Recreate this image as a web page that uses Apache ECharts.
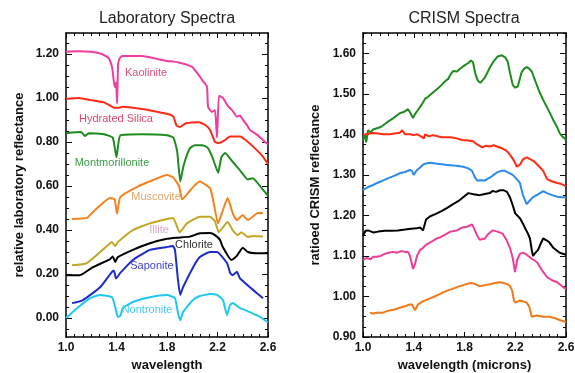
<!DOCTYPE html>
<html>
<head>
<meta charset="utf-8">
<script src="https://cdn.jsdelivr.net/npm/echarts@6/dist/echarts.min.js"></script>
<style>
  html, body { margin: 0; padding: 0; background: #fff; }
  #chart { width: 575px; height: 373px; }
</style>
</head>
<body>
<div id="chart"></div>
<script>
// ---- laboratory spectra: [wavelength, relative reflectance] ----
const kaolinite = [[1.0,1.21],[1.1,1.212],[1.2,1.21],[1.25,1.205],[1.3,1.195],[1.34,1.18],[1.365,1.14],[1.38,1.07],[1.39,1.05],[1.397,1.07],[1.405,0.975],[1.412,1.15],[1.425,1.18],[1.445,1.19],[1.6,1.19],[1.7,1.18],[1.8,1.168],[1.85,1.165],[1.9,1.16],[1.96,1.15],[2.0,1.14],[2.05,1.105],[2.08,1.08],[2.117,1.05],[2.125,0.96],[2.156,0.936],[2.18,0.945],[2.196,0.82],[2.212,1.01],[2.243,1.0],[2.28,0.965],[2.315,0.945],[2.354,0.915],[2.378,0.92],[2.402,0.90],[2.43,0.88],[2.457,0.855],[2.52,0.83],[2.576,0.80],[2.6,0.79]];
const hydratedSilica = [[1.0,0.995],[1.1,1.0],[1.2,0.99],[1.3,0.98],[1.35,0.965],[1.38,0.955],[1.42,0.955],[1.45,0.96],[1.6,0.95],[1.7,0.94],[1.8,0.928],[1.85,0.915],[1.875,0.875],[1.9,0.868],[1.95,0.885],[2.05,0.89],[2.1,0.878],[2.14,0.855],[2.18,0.8],[2.21,0.795],[2.25,0.805],[2.3,0.825],[2.38,0.825],[2.42,0.81],[2.48,0.78],[2.55,0.74],[2.6,0.70]];
const montmorillonite = [[1.0,0.84],[1.12,0.845],[1.15,0.827],[1.18,0.84],[1.3,0.835],[1.37,0.82],[1.40,0.73],[1.43,0.83],[1.6,0.835],[1.8,0.83],[1.85,0.82],[1.88,0.76],[1.905,0.62],[1.93,0.69],[1.98,0.77],[2.02,0.785],[2.08,0.785],[2.12,0.775],[2.16,0.73],[2.205,0.66],[2.23,0.73],[2.26,0.75],[2.32,0.71],[2.38,0.67],[2.44,0.63],[2.48,0.635],[2.55,0.59],[2.6,0.555]];
const muscovite = [[1.048,0.45],[1.166,0.455],[1.21,0.48],[1.35,0.545],[1.385,0.54],[1.404,0.475],[1.43,0.55],[1.56,0.595],[1.69,0.627],[1.8,0.65],[1.847,0.64],[1.895,0.6],[1.92,0.54],[2.006,0.595],[2.06,0.62],[2.14,0.59],[2.164,0.54],[2.204,0.43],[2.235,0.477],[2.28,0.545],[2.32,0.477],[2.354,0.445],[2.40,0.468],[2.44,0.445],[2.52,0.477],[2.56,0.477]];
const illite = [[1.048,0.24],[1.166,0.25],[1.35,0.34],[1.364,0.345],[1.39,0.327],[1.41,0.345],[1.53,0.40],[1.665,0.43],[1.847,0.455],[1.90,0.39],[1.958,0.43],[2.06,0.46],[2.14,0.46],[2.18,0.44],[2.21,0.39],[2.24,0.41],[2.28,0.436],[2.32,0.40],[2.36,0.377],[2.39,0.39],[2.44,0.368],[2.48,0.373],[2.56,0.37]];
const chlorite = [[1.0,0.195],[1.11,0.195],[1.21,0.23],[1.35,0.268],[1.37,0.28],[1.39,0.255],[1.41,0.277],[1.53,0.31],[1.665,0.34],[1.8,0.36],[1.88,0.365],[1.98,0.37],[2.06,0.385],[2.14,0.386],[2.18,0.377],[2.22,0.355],[2.24,0.325],[2.31,0.264],[2.35,0.28],[2.40,0.32],[2.44,0.30],[2.50,0.295],[2.6,0.295]];
const saponite = [[1.048,0.068],[1.135,0.082],[1.27,0.14],[1.364,0.21],[1.38,0.215],[1.396,0.18],[1.43,0.205],[1.53,0.264],[1.665,0.31],[1.8,0.323],[1.847,0.327],[1.863,0.31],[1.887,0.173],[1.905,0.105],[1.927,0.14],[2.006,0.23],[2.06,0.277],[2.14,0.30],[2.196,0.30],[2.275,0.25],[2.30,0.205],[2.32,0.195],[2.354,0.21],[2.378,0.18],[2.457,0.14],[2.51,0.114],[2.56,0.09]];
const nontronite = [[1.0,0.0],[1.087,0.045],[1.19,0.09],[1.27,0.105],[1.364,0.095],[1.39,0.05],[1.41,0.005],[1.43,0.01],[1.45,0.045],[1.53,0.073],[1.665,0.095],[1.8,0.105],[1.863,0.09],[1.887,0.023],[1.905,-0.01],[1.927,0.027],[2.006,0.082],[2.06,0.1],[2.14,0.109],[2.196,0.105],[2.243,0.082],[2.275,0.014],[2.30,0.06],[2.32,0.068],[2.378,0.045],[2.457,0.027],[2.536,0.005],[2.6,-0.02]];

// ---- CRISM spectra: [wavelength, ratioed reflectance] ----
const crismGreen = [[1.0,1.385],[1.015,1.40],[1.025,1.38],[1.04,1.41],[1.06,1.405],[1.08,1.412],[1.11,1.415],[1.14,1.418],[1.17,1.425],[1.2,1.432],[1.23,1.438],[1.26,1.445],[1.29,1.452],[1.32,1.455],[1.355,1.462],[1.375,1.452],[1.394,1.44],[1.41,1.45],[1.433,1.46],[1.46,1.472],[1.49,1.488],[1.51,1.492],[1.54,1.50],[1.57,1.508],[1.59,1.513],[1.62,1.522],[1.65,1.532],[1.67,1.536],[1.69,1.548],[1.71,1.556],[1.74,1.555],[1.77,1.563],[1.8,1.57],[1.83,1.576],[1.85,1.582],[1.867,1.578],[1.885,1.55],[1.906,1.532],[1.925,1.527],[1.94,1.528],[1.96,1.54],[1.977,1.55],[2.0,1.565],[2.025,1.578],[2.06,1.592],[2.095,1.595],[2.12,1.59],[2.14,1.58],[2.16,1.55],[2.18,1.522],[2.2,1.515],[2.22,1.518],[2.25,1.553],[2.27,1.562],[2.29,1.566],[2.31,1.562],[2.33,1.555],[2.36,1.53],[2.39,1.505],[2.42,1.485],[2.45,1.467],[2.48,1.448],[2.5,1.435],[2.53,1.418],[2.55,1.403],[2.57,1.395],[2.59,1.39],[2.6,1.385]];
const crismRed = [[1.0,1.398],[1.02,1.40],[1.05,1.402],[1.08,1.403],[1.12,1.402],[1.16,1.40],[1.21,1.40],[1.25,1.402],[1.29,1.404],[1.31,1.41],[1.33,1.40],[1.37,1.40],[1.40,1.398],[1.425,1.40],[1.45,1.396],[1.48,1.39],[1.49,1.40],[1.52,1.395],[1.55,1.398],[1.58,1.396],[1.62,1.393],[1.69,1.393],[1.74,1.39],[1.78,1.386],[1.83,1.385],[1.867,1.383],[1.9,1.375],[1.94,1.368],[1.97,1.372],[2.0,1.37],[2.03,1.373],[2.056,1.37],[2.1,1.365],[2.13,1.36],[2.158,1.35],[2.19,1.335],[2.213,1.32],[2.237,1.325],[2.26,1.338],[2.29,1.343],[2.32,1.338],[2.35,1.333],[2.39,1.32],[2.42,1.31],[2.45,1.29],[2.48,1.285],[2.53,1.28],[2.56,1.278],[2.6,1.272]];
const crismBlue = [[1.0,1.263],[1.04,1.27],[1.08,1.275],[1.11,1.28],[1.15,1.285],[1.2,1.292],[1.25,1.298],[1.29,1.304],[1.33,1.307],[1.37,1.312],[1.386,1.31],[1.40,1.30],[1.42,1.31],[1.45,1.318],[1.48,1.327],[1.53,1.33],[1.57,1.328],[1.607,1.327],[1.65,1.325],[1.71,1.323],[1.75,1.322],[1.79,1.32],[1.83,1.316],[1.86,1.31],[1.88,1.295],[1.9,1.286],[1.93,1.287],[1.96,1.286],[1.98,1.29],[2.0,1.293],[2.03,1.30],[2.056,1.306],[2.09,1.31],[2.12,1.31],[2.15,1.305],[2.18,1.30],[2.21,1.29],[2.237,1.28],[2.26,1.25],[2.29,1.228],[2.31,1.235],[2.34,1.245],[2.38,1.252],[2.42,1.26],[2.45,1.255],[2.49,1.25],[2.53,1.246],[2.57,1.245],[2.6,1.245]];
const crismBlack = [[1.0,1.15],[1.02,1.162],[1.04,1.163],[1.08,1.158],[1.12,1.16],[1.17,1.162],[1.22,1.162],[1.275,1.163],[1.33,1.165],[1.38,1.167],[1.42,1.168],[1.45,1.17],[1.473,1.163],[1.497,1.19],[1.53,1.198],[1.57,1.203],[1.615,1.21],[1.66,1.218],[1.71,1.228],[1.75,1.235],[1.79,1.245],[1.83,1.255],[1.87,1.252],[1.92,1.25],[1.96,1.253],[2.0,1.255],[2.02,1.26],[2.05,1.258],[2.08,1.262],[2.11,1.262],[2.135,1.258],[2.158,1.245],[2.18,1.225],[2.2,1.205],[2.237,1.193],[2.26,1.18],[2.275,1.17],[2.3,1.155],[2.316,1.143],[2.33,1.115],[2.34,1.10],[2.36,1.108],[2.38,1.115],[2.4,1.13],[2.42,1.143],[2.45,1.138],[2.47,1.133],[2.5,1.12],[2.55,1.108],[2.6,1.103]];
const crismPink = [[1.0,1.09],[1.03,1.095],[1.06,1.092],[1.08,1.098],[1.11,1.098],[1.14,1.10],[1.17,1.105],[1.2,1.108],[1.237,1.11],[1.27,1.108],[1.3,1.112],[1.33,1.11],[1.355,1.11],[1.37,1.10],[1.385,1.08],[1.394,1.068],[1.41,1.08],[1.425,1.10],[1.45,1.115],[1.473,1.12],[1.5,1.128],[1.54,1.135],[1.575,1.142],[1.607,1.146],[1.65,1.153],[1.69,1.16],[1.74,1.163],[1.78,1.17],[1.82,1.172],[1.86,1.178],[1.88,1.165],[1.9,1.15],[1.92,1.14],[1.96,1.143],[1.99,1.155],[2.02,1.163],[2.06,1.16],[2.1,1.155],[2.13,1.14],[2.158,1.12],[2.18,1.095],[2.198,1.06],[2.215,1.09],[2.237,1.105],[2.26,1.108],[2.29,1.103],[2.33,1.093],[2.37,1.085],[2.41,1.065],[2.45,1.048],[2.49,1.04],[2.53,1.035],[2.57,1.025],[2.6,1.018]];
const crismOrange = [[1.055,0.96],[1.08,0.958],[1.11,0.96],[1.157,0.96],[1.2,0.965],[1.25,0.968],[1.29,0.972],[1.33,0.976],[1.37,0.98],[1.386,0.98],[1.41,0.966],[1.433,0.98],[1.47,0.988],[1.51,0.993],[1.55,0.998],[1.6,1.005],[1.63,1.01],[1.67,1.015],[1.7,1.018],[1.74,1.023],[1.79,1.028],[1.83,1.032],[1.86,1.033],[1.89,1.03],[1.92,1.025],[1.96,1.028],[2.0,1.03],[2.04,1.033],[2.08,1.035],[2.11,1.033],[2.14,1.03],[2.16,1.025],[2.175,1.015],[2.19,0.99],[2.2,0.985],[2.237,0.99],[2.26,0.988],[2.29,0.985],[2.31,0.975],[2.33,0.95],[2.37,0.953],[2.42,0.95],[2.47,0.95],[2.51,0.947],[2.55,0.942],[2.6,0.937]];

// tick labels
const xTicks = [1.0, 1.4, 1.8, 2.2, 2.6];
const labYTicks = [0.0, 0.2, 0.4, 0.6, 0.8, 1.0, 1.2];
const crismYTicks = [0.9, 1.0, 1.1, 1.2, 1.3, 1.4, 1.5, 1.6];

const labNames = ['Kaolinite', 'Hydrated Silica', 'Montmorillonite', 'Muscovite', 'Illite', 'Chlorite', 'Saponite', 'Nontronite'];
const labSeries = [kaolinite, hydratedSilica, montmorillonite, muscovite, illite, chlorite, saponite, nontronite];
const crismSeries = [crismGreen, crismRed, crismBlue, crismBlack, crismPink, crismOrange];

// styles
const FONT = 'Liberation Sans, Arial, sans-serif';
const labColors = ['#f03ca0', '#ff2a14', '#1e8c1e', '#f5821f', '#c4a626', '#000000', '#1c2ccc', '#1ec8f0'];
const labTextColors = ['#d8507e', '#e0486c', '#3c9c46', '#e2a464', '#d8a8c8', '#333333', '#4444c8', '#48c8f0'];
const labTextAt = [[1.634, 1.114], [1.396, 0.905], [1.364, 0.705], [1.713, 0.55], [1.737, 0.40], [2.014, 0.332], [1.681, 0.236], [1.642, 0.036]];
const crismColors = ['#1e8c1e', '#ff2a10', '#2a8af0', '#000000', '#f03c96', '#f07a1a'];

const LAB_MIN = -0.086, LAB_MAX = 1.295, CRISM_MIN = 0.9, CRISM_MAX = 1.65;

function steps(a, b, s) {
  const out = [];
  for (let v = a; v <= b + 1e-9; v += s) out.push(Math.round(v * 1000) / 1000);
  return out;
}

function xAxis(grid, pos, name) {
  return {
    type: 'value', gridIndex: grid, position: pos, min: 1.0, max: 2.6, interval: 0.4,
    axisLine: { onZero: false, lineStyle: { color: '#000', width: 1.5 } },
    axisTick: { inside: true, length: 5, lineStyle: { color: '#000', width: 1 } },
    minorTick: { show: true, splitNumber: 6, length: 3, lineStyle: { color: '#000', width: 1 } },
    splitLine: { show: false },
    axisLabel: {
      show: pos === 'bottom', margin: 5, color: '#111', fontSize: 12, fontWeight: 'bold', fontFamily: FONT,
      customValues: xTicks, formatter: v => v.toFixed(1)
    },
    name: pos === 'bottom' ? name : '', nameLocation: 'middle', nameGap: 20,
    nameTextStyle: { color: '#111', fontSize: 13, fontWeight: 'bold', fontFamily: FONT }
  };
}

function yAxis(grid, pos, min, max, major, minor, name, nameGap) {
  return {
    type: 'value', gridIndex: grid, position: pos, min: min, max: max,
    axisLine: { onZero: false, lineStyle: { color: '#000', width: 1.5 } },
    axisTick: { inside: true, length: 3, customValues: minor, lineStyle: { color: '#000', width: 1 } },
    splitLine: { show: false },
    axisLabel: {
      show: pos === 'left', margin: 7, color: '#111', fontSize: 12, fontWeight: 'bold', fontFamily: FONT,
      customValues: major, formatter: v => v.toFixed(2)
    },
    name: pos === 'left' ? name : '', nameLocation: 'middle', nameGap: nameGap,
    nameTextStyle: { color: '#111', fontSize: 13, fontWeight: 'bold', fontFamily: FONT }
  };
}

// overlay axis carrying only the longer major ticks
function yMajor(grid, pos, min, max, major) {
  return {
    type: 'value', gridIndex: grid, position: pos, min: min, max: max,
    axisLine: { show: false }, splitLine: { show: false }, axisLabel: { show: false },
    axisTick: { inside: true, length: 6, customValues: major, lineStyle: { color: '#000', width: 1 } }
  };
}

const series = [];
labSeries.forEach((d, i) => {
  series.push({
    type: 'line', xAxisIndex: 0, yAxisIndex: 0, data: d, showSymbol: false, silent: true,
    smooth: 0.15,
    lineStyle: { color: labColors[i], width: 2 },
    markPoint: {
      silent: true, symbol: 'circle', symbolSize: 1, itemStyle: { color: 'rgba(0,0,0,0)' },
      data: [{ coord: labTextAt[i], value: labNames[i] }],
      label: { show: true, position: 'inside', formatter: labNames[i], color: labTextColors[i], fontSize: 11, fontFamily: FONT }
    }
  });
});
crismSeries.forEach((d, i) => {
  series.push({
    type: 'line', xAxisIndex: 2, yAxisIndex: 4, data: d, showSymbol: false, silent: true,
    lineStyle: { color: crismColors[i], width: 2 }
  });
});

const chart = echarts.init(document.getElementById('chart'), null, { renderer: 'canvas' });
chart.setOption({
  animation: false,
  backgroundColor: '#fff',
  title: [
    { text: 'Laboratory Spectra', left: 167, top: 11, padding: 0, textAlign: 'center',
      textStyle: { fontSize: 16, fontWeight: 'normal', color: '#222', fontFamily: FONT } },
    { text: 'CRISM Spectra', left: 464, top: 11, padding: 0, textAlign: 'center',
      textStyle: { fontSize: 16, fontWeight: 'normal', color: '#222', fontFamily: FONT } }
  ],
  grid: [
    { left: 66, right: 307, top: 33, bottom: 36, outerBoundsMode: 'none', containLabel: false },
    { left: 363, right: 9, top: 33, bottom: 36, outerBoundsMode: 'none', containLabel: false }
  ],
  xAxis: [
    xAxis(0, 'bottom', 'wavelength'), xAxis(0, 'top', ''),
    xAxis(1, 'bottom', 'wavelength (microns)'), xAxis(1, 'top', '')
  ],
  yAxis: [
    yAxis(0, 'left', LAB_MIN, LAB_MAX, labYTicks, steps(-0.05, 1.25, 0.05), 'relative laboratory reflectance', 40),
    yAxis(0, 'right', LAB_MIN, LAB_MAX, labYTicks, steps(-0.05, 1.25, 0.05), '', 0),
    yMajor(0, 'left', LAB_MIN, LAB_MAX, labYTicks),
    yMajor(0, 'right', LAB_MIN, LAB_MAX, labYTicks),
    yAxis(1, 'left', CRISM_MIN, CRISM_MAX, crismYTicks, steps(0.9, 1.65, 0.025), 'ratioed CRISM reflectance', 41),
    yAxis(1, 'right', CRISM_MIN, CRISM_MAX, crismYTicks, steps(0.9, 1.65, 0.025), '', 0),
    yMajor(1, 'left', CRISM_MIN, CRISM_MAX, crismYTicks),
    yMajor(1, 'right', CRISM_MIN, CRISM_MAX, crismYTicks)
  ],
  series: series
});
</script>
</body>
</html>
